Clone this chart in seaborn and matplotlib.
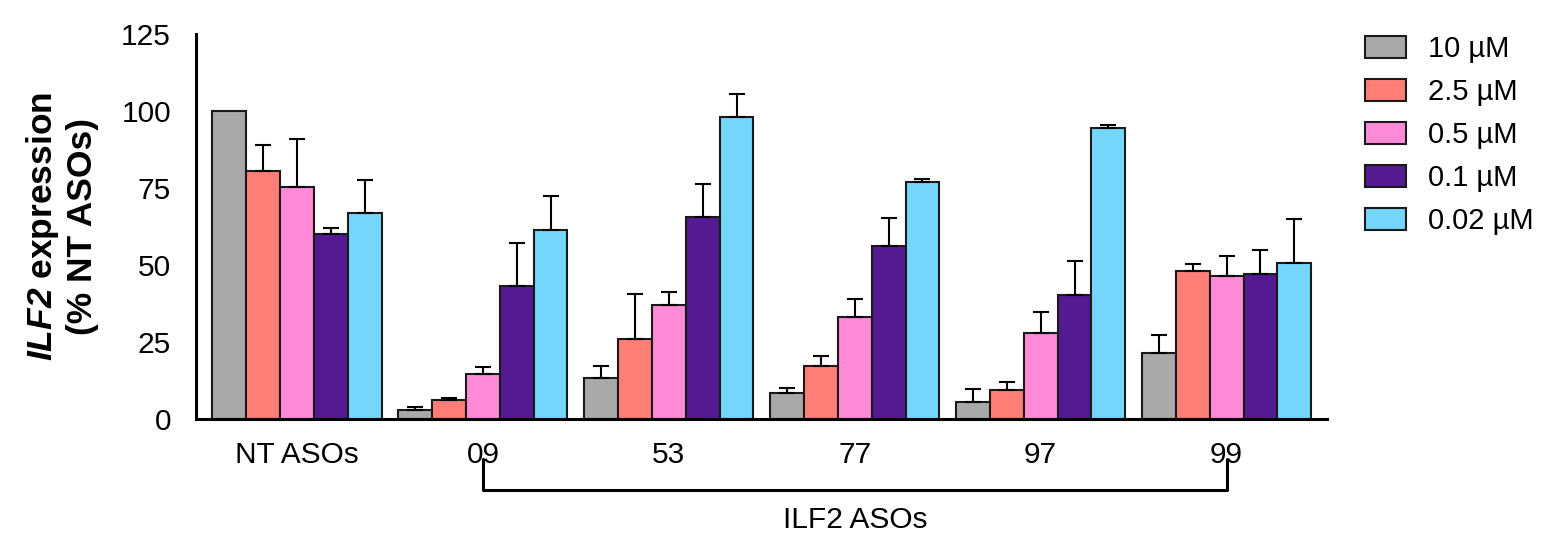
import matplotlib
matplotlib.use("Agg")
import matplotlib.pyplot as plt
import seaborn as sns
import pandas as pd
import numpy as np

groups = ["NT ASOs", "09", "53", "77", "97", "99"]
concs = ["10 µM", "2.5 µM", "0.5 µM", "0.1 µM", "0.02 µM"]
colors = ["#A9A9A9", "#FF7F78", "#FF8AD8", "#531A91", "#75D6FC"]

# mean values per concentration across groups
means = {
    "10 µM":   [100.0, 2.9, 13.4, 8.3, 5.5, 21.3],
    "2.5 µM":  [80.5, 6.2, 26.0, 17.2, 9.4, 48.0],
    "0.5 µM":  [75.2, 14.6, 37.0, 33.1, 28.0, 46.5],
    "0.1 µM":  [60.0, 43.3, 65.6, 56.3, 40.3, 47.0],
    "0.02 µM": [67.0, 61.4, 98.0, 76.8, 94.5, 50.6],
}
# upper error (SD) per concentration
errs = {
    "10 µM":   [0.0, 1.0, 3.8, 1.7, 4.2, 6.0],
    "2.5 µM":  [8.5, 0.6, 14.7, 3.2, 2.6, 2.3],
    "0.5 µM":  [15.8, 2.3, 4.3, 5.8, 6.8, 6.5],
    "0.1 µM":  [2.0, 13.8, 10.7, 9.1, 10.9, 7.8],
    "0.02 µM": [10.6, 11.1, 7.5, 1.2, 1.1, 14.4],
}
ylabel_line1 = r"$\bfit{ILF2}$ expression"
ylabel_line2 = "(% NT ASOs)"
bracket_label = "ILF2 ASOs"
yticks = [0, 25, 50, 75, 100, 125]

rows = []
for c in concs:
    for g, m, e in zip(groups, means[c], errs[c]):
        rows.append({"group": g, "conc": c, "value": m, "err": e})
df = pd.DataFrame(rows)

sns.set_style("white")
plt.rcParams["font.family"] = ["Liberation Sans", "DejaVu Sans"]
plt.rcParams["mathtext.fontset"] = "custom"
plt.rcParams["mathtext.it"] = "Liberation Sans:italic"
plt.rcParams["mathtext.bf"] = "Liberation Sans:bold"
plt.rcParams["mathtext.bfit"] = "Liberation Sans:bold:italic"
plt.rcParams["text.color"] = "black"
plt.rcParams["axes.labelcolor"] = "black"

fig = plt.figure(figsize=(15.47, 5.34), dpi=100)
ax = fig.add_axes([0.1267, 0.2154, 0.7311, 0.7209])

sns.barplot(data=df, x="group", y="value", hue="conc", order=groups,
            hue_order=concs, palette=colors, width=0.91, gap=0,
            edgecolor="#1a1a1a", linewidth=1.5, errorbar=None, ax=ax,
            legend=True, saturation=1)

for cont, c in zip(ax.containers, concs):
    xs = [p.get_x() + p.get_width() / 2 for p in cont]
    tops = [p.get_height() for p in cont]
    e = np.array(errs[c])
    mask = e > 0
    ax.errorbar(np.array(xs)[mask], np.array(tops)[mask],
                yerr=[np.zeros(mask.sum()), e[mask]], fmt="none",
                ecolor="black", elinewidth=1.5, capsize=6, capthick=1.5,
                zorder=1)

ax.set_ylim(0, 125)
ax.set_xlim(-0.543, 5.54)
ax.set_yticks(yticks)
ax.set_xlabel("")
ax.set_ylabel(ylabel_line1 + "\n" + ylabel_line2, fontsize=25.5,
              fontweight="bold", labelpad=16, linespacing=1.2)
sns.despine(ax=ax)
for s in ["left", "bottom"]:
    ax.spines[s].set_linewidth(2.2)
    ax.spines[s].set_color("black")
ax.tick_params(axis="both", direction="out", length=8, width=2.2,
               labelsize=21.5, colors="black")
ax.tick_params(axis="x", pad=8)
ax.tick_params(axis="y", pad=10)

# bracket under ILF2 groups
trans = ax.get_xaxis_transform()
x0 = groups.index("09")
x1 = groups.index("99")
yb_top, yb = -0.105, -0.185
ax.plot([x0, x0, x1, x1], [yb_top, yb, yb, yb_top], color="black",
        lw=2.2, transform=trans, clip_on=False)
ax.text((x0 + x1) / 2, -0.262, bracket_label, transform=trans,
        ha="center", va="center", fontsize=21.5, color="black")

handles, labels = ax.get_legend_handles_labels()
ax.get_legend().remove()
fig.legend(handles, labels, loc="upper left",
           bbox_to_anchor=(0.8823, 0.935), frameon=False, fontsize=21,
           handlelength=1.4, handleheight=0.78, handletextpad=0.75,
           labelspacing=0.52, borderaxespad=0, borderpad=0)

fig.savefig("out.png", dpi=100)
